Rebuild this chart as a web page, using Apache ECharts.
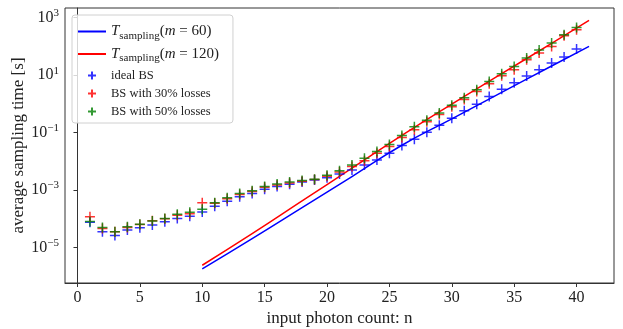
<!DOCTYPE html>
<html>
<head>
<meta charset="utf-8">
<script src="https://cdn.jsdelivr.net/npm/echarts@6/dist/echarts.min.js"></script>
<style>
html, body { margin: 0; padding: 0; background: #fff; }
#main { width: 623px; height: 329px; }
</style>
</head>
<body>
<div id="main"></div>
<script>
// input photon count for the simulated points
const photons = [1, 2, 3, 4, 5, 6, 7, 8, 9, 10, 11, 12, 13, 14, 15, 16, 17, 18, 19, 20,
  21, 22, 23, 24, 25, 26, 27, 28, 29, 30, 31, 32, 33, 34, 35, 36, 37, 38, 39, 40]

// log10 of average sampling time [s]
const idealBS = [-4.12, -4.45, -4.58, -4.39, -4.31, -4.22, -4.10, -3.99, -3.91, -3.76,
  -3.56, -3.39, -3.23, -3.12, -2.97, -2.88, -2.80, -2.72, -2.65, -2.57,
  -2.44, -2.30, -2.13, -1.95, -1.72, -1.45, -1.23, -0.99, -0.74, -0.50,
  -0.24, -0.01, 0.26, 0.51, 0.74, 0.97, 1.19, 1.42, 1.63, 1.91]
const loss30 = [-3.93, -4.34, -4.45, -4.30, -4.20, -4.07, -4.00, -3.88, -3.82, -3.44,
  -3.46, -3.30, -3.15, -3.05, -2.90, -2.82, -2.75, -2.69, -2.63, -2.52,
  -2.37, -2.18, -1.98, -1.72, -1.48, -1.17, -0.90, -0.62, -0.37, -0.10,
  0.15, 0.43, 0.70, 0.98, 1.19, 1.54, 1.77, 2.00, 2.37, 2.58]
const loss50 = [-4.09, -4.30, -4.45, -4.28, -4.19, -4.08, -3.99, -3.84, -3.77, -3.67,
  -3.44, -3.27, -3.12, -3.02, -2.88, -2.79, -2.72, -2.67, -2.62, -2.48,
  -2.33, -2.13, -1.89, -1.66, -1.41, -1.10, -0.80, -0.57, -0.32, -0.05,
  0.21, 0.49, 0.78, 1.05, 1.30, 1.60, 1.88, 2.12, 2.41, 2.66]

// theoretical curves, sampled where read
const lineN = [10, 14, 18, 22, 26, 30, 34, 38, 41]
const tM60 = [-5.744, -4.69, -3.61, -2.53, -1.44, -0.52, 0.40, 1.32, 2.0]
const tM120 = [-5.617, -4.52, -3.38, -2.24, -1.10, -0.01, 1.05, 2.11, 2.906]

const xTicks = [0, 5, 10, 15, 20, 25, 30, 35, 40]
const yTicks = [1e-5, 1e-3, 1e-1, 1e1, 1e3]

const FONT = 'Liberation Serif'
const PLUS = 'path://M0,5L10,5M5,0L5,10'

function pairs(xs, logs) {
  return xs.map((x, i) => [x, Math.pow(10, logs[i])])
}

function supLabel(v) {
  const e = Math.round(Math.log10(v))
  return '{b|10}{s|' + (e < 0 ? '\u2212' + (-e) : e) + '}'
}

function plusSeries(name, color, logs) {
  return {
    name: name,
    type: 'scatter',
    data: pairs(photons, logs),
    symbol: PLUS,
    symbolSize: 10,
    itemStyle: { color: 'none', borderColor: color, borderWidth: 1.5 },
    z: 3
  }
}

function lineSeries(name, color, logs) {
  return {
    name: name,
    type: 'line',
    data: pairs(lineN, logs),
    symbol: 'none',
    smooth: true,
    lineStyle: { color: color, width: 1.5 },
    itemStyle: { color: color },
    z: 2
  }
}

const chart = echarts.init(document.getElementById('main'))

chart.setOption({
  animation: false,
  grid: {
    left: 65, right: 9, top: 8, bottom: 46,
    outerBoundsMode: 'none',
    show: true, borderColor: '#333', borderWidth: 1
  },
  legend: {
    orient: 'vertical',
    left: 72, top: 15,
    backgroundColor: 'rgba(255,255,255,0.8)',
    borderColor: '#d0d0d0', borderWidth: 1, borderRadius: 3,
    padding: [9, 14, 5, 5],
    itemWidth: 28, itemHeight: 8, itemGap: 5,
    textStyle: {
      fontFamily: FONT, fontSize: 12.5, color: '#222',
      rich: {
        it: { fontFamily: FONT, fontStyle: 'italic', fontSize: 15, color: '#222' },
        r: { fontFamily: FONT, fontSize: 15, color: '#222' },
        sub: { fontFamily: FONT, fontSize: 11, color: '#222', padding: [9, 0, 0, 0] }
      }
    },
    formatter: function (name) {
      if (name.indexOf('T_') === 0) {
        const m = name.split('=')[1]
        return '{it|T}{sub|sampling}{r|(}{it|m}{r| = ' + m + ')}'
      }
      return name
    },
    data: [
      { name: 'T_=60', itemStyle: { opacity: 0 } },
      { name: 'T_=120', itemStyle: { opacity: 0 } },
      'ideal BS', 'BS with 30% losses', 'BS with 50% losses'
    ]
  },
  xAxis: {
    type: 'value',
    min: -1, max: 43,
    name: 'input photon count: n',
    nameLocation: 'middle', nameGap: 27,
    nameMoveOverlap: false,
    nameTextStyle: { fontFamily: FONT, fontSize: 17, color: '#222' },
    axisLine: { show: true, lineStyle: { color: '#333' } },
    axisTick: { show: true, length: 4, customValues: xTicks, lineStyle: { color: '#333' } },
    axisLabel: {
      customValues: xTicks, margin: 7,
      fontFamily: FONT, fontSize: 16, color: '#222'
    },
    splitLine: { show: false }
  },
  yAxis: {
    type: 'log',
    logBase: 10,
    min: Math.pow(10, -6.235), max: Math.pow(10, 3.338),
    name: 'average sampling time [s]',
    nameLocation: 'middle', nameGap: 38,
    nameMoveOverlap: false,
    nameTextStyle: { fontFamily: FONT, fontSize: 17, color: '#222' },
    axisLine: { show: true, lineStyle: { color: '#333' } },
    axisTick: { show: true, length: 4, customValues: yTicks, lineStyle: { color: '#333' } },
    axisLabel: {
      customValues: yTicks, margin: 6,
      formatter: supLabel,
      rich: {
        b: { fontFamily: FONT, fontSize: 16, color: '#222' },
        s: { fontFamily: FONT, fontSize: 11, color: '#222', padding: [0, 0, 9, 0] }
      }
    },
    splitLine: { show: false }
  },
  series: [
    lineSeries('T_=60', '#0000ff', tM60),
    lineSeries('T_=120', '#ff0000', tM120),
    plusSeries('ideal BS', '#0000ff', idealBS),
    plusSeries('BS with 30% losses', '#ff0000', loss30),
    plusSeries('BS with 50% losses', '#008000', loss50)
  ]
})
</script>
</body>
</html>
